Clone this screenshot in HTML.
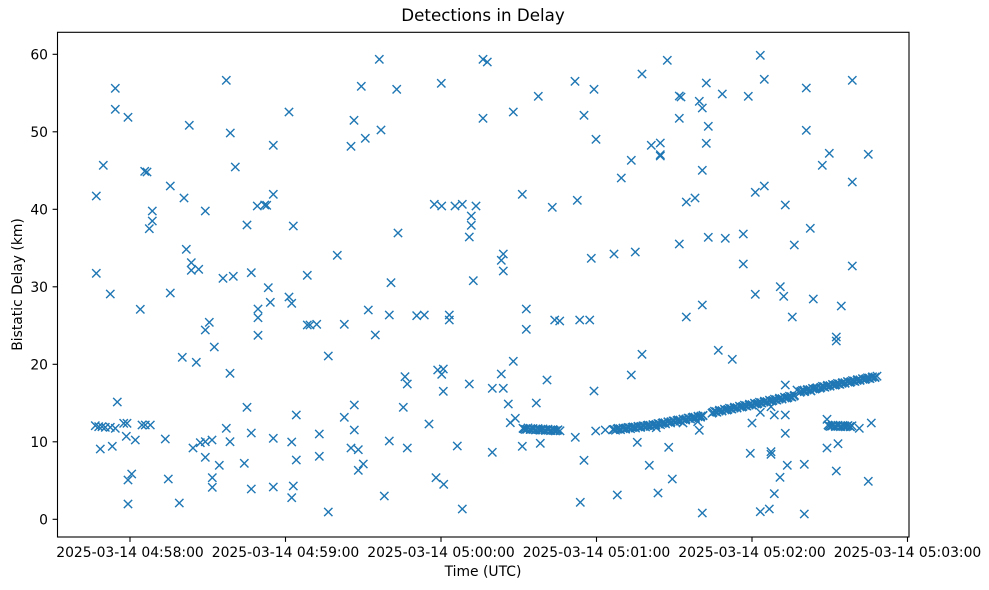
<!DOCTYPE html>
<html>
<head>
<meta charset="utf-8">
<style>
  html, body { margin:0; padding:0; background:#fff; }
  body { width:989px; height:590px; overflow:hidden; }
  svg { display:block; }
  text { font-family: "DejaVu Sans", "Liberation Sans", sans-serif; fill:#000; }
</style>
</head>
<body>
<svg width="989" height="590" viewBox="0 0 989 590" xmlns="http://www.w3.org/2000/svg">
  <defs>
    <marker id="m" markerWidth="12" markerHeight="12" refX="6" refY="6" markerUnits="userSpaceOnUse" overflow="visible">
      <path d="M1.83 1.83L10.17 10.17M10.17 1.83L1.83 10.17" stroke="#1f77b4" stroke-width="1.4" fill="none"/>
    </marker>
  </defs>
  <rect x="0" y="0" width="989" height="590" fill="#fff"/>

  <!-- scatter points -->
  <polyline fill="none" stroke="none" marker-start="url(#m)" marker-mid="url(#m)" marker-end="url(#m)" points="
115.3,88.3 226.3,80.3 115.3,109.3 128,117.3 189.3,125.3 230.3,133 103.3,165.3 144.7,171.3 147,172 235.3,167
170.3,186 96.3,196 184,198 152.3,211 205.3,211 257.3,206 264.7,205 152.3,221 149.3,228.7 247,225
186.3,249.3 191.3,262.7 191.3,270.3 198.7,269.3 96.3,273.3 223,278.3 233.3,276.3 251.3,272.7
110.3,294 170.3,293 140.3,309.3 258,309 258,317.7 209.3,322.3 205.3,330 258,335.3 214.3,347 182.3,357.3
196.3,362.3 230,373.3 117.3,402 247,407.3
95.3,425.7 98.7,426.7 102,426.7 105.3,427.3 110.3,427.3 115.3,428.3 123.7,423.3 127,423.3 142,425 145.3,425 150.3,425
226.3,428.3 251.3,433 126.3,436.3 135.3,440 165.3,439 193,448 200.3,442.7 205.3,441.7 212,440 230,441.7
100.3,449 112.3,446.3 205.3,457.3 219.3,465.3 244.3,463.3 131.7,474 128,480 168.3,479 212.3,477.7 212.3,487.3
251.3,489 128,504 179.3,503
379.3,59.3 361.3,86.3 396.7,89.3 441.3,83.3 289,112 354,120.3 381,130 365.3,138.3 351,146.3 273.3,145.3
273.3,194.3 266.7,205.3 293.3,226 398,233 337.3,255.3 307.3,275.3 391,282.7 434.3,204.3 441.7,206 455,206
462.3,204.3 476,206 471.3,216 471.3,225.3 469.3,237 473.3,280.7
268.3,287.7 270.3,302.3 289,297 291.7,303.3 307.3,325 310,325 316.7,324.3 344.3,324.3 368.3,310 389.3,315
416.7,315.7 424.3,315 449.3,315 449.3,320 375.3,335 328.3,356 405,376.7 407.3,384 437.7,370 443.3,369
441.7,374.3 443.3,391.3 469.3,384 354.3,405 403.3,407.3 296.3,415 344.3,417.3 429,424 354.3,430 319.3,434
273.3,438.3 291.7,442 389.3,441 351,448 358.3,449.7 407.3,448 457.3,446 296.3,460 319.3,456.3 363.3,464
358.3,470.3 273.3,487 293.3,486 291.7,497.7 436,477.7 443.7,484.3 384.3,496 328.3,512 462.3,509
483,59.3 487.3,62 667.3,60.3 642,74 575,81.3 594,89.3 538.3,96.3 679.3,96 681,97 483,118.3
513.3,112 584,115.3 679.3,118.3 596,139.3 651.3,145.3 660.3,143 660.3,154.7 660.3,156 631.3,160.3 621.3,178
522.3,194.3 552.3,207.3 577.3,200.3 686.3,202 679.3,244 503.3,254 501.3,260.3 503.3,271 591.3,258.3
614,254 635.3,252
526.3,309 526.3,329.3 554.7,320 559.7,321 579.7,320 589.7,320 686.3,317 513.3,361.3 501.3,374 492.3,388.3
503.3,388.3 547,380 508.3,404 536.3,403 594,391 631.3,375 642,354.3 510.3,422.7 515.3,418.3 492.3,452.3
522.3,446.3 540.3,443.3 575.3,437.3 595.7,431 605.3,430 584,460.3 637.3,442.3 656.3,427.7 668.7,447.3 649.3,465.3
672.3,479 658,493 617.3,495 580.3,502.3 683,423
760.3,55.3 764.3,79.3 706.3,83 722.3,94 748.3,96.3 699.3,101.3 702.3,108 806.3,88 852.3,80.3 708.3,126.3
706.3,143.3 806.3,130.3 829.3,153.3 868.3,154.3 822.3,165.3 702.3,170.3 852.3,182 764.3,186 755.3,192.3 695,198
785.3,205 810.3,228.3 794.3,245 708.3,237.3 725.3,238.3 743.3,234 743.3,264 852.3,266
755.3,294.3 780.3,286.7 783.7,296.3 702.3,305 813.3,299 841.3,306 792.3,317 836.3,337 836.3,341 718.3,350.3
732.3,359.3 785.3,385 797,390 804.3,391.7 811,391 760.3,412.3 771,406.7 774.3,415 785.3,415 752,423
697.7,421.7 699.3,430.3 785.3,433.3 827,419.3 859.3,428.3 871.3,423 750.3,453.3 771,451.7 771,454.3 827,448
838,443.7 787.3,465.3 804.3,464.3 836.3,471 868.3,481.3 780,477.3 774.3,493.7 702.3,513 760.3,511.7 769.3,509
804.3,514
"/>

  <!-- dense clusters / band (zigzag layer) -->
  <polyline fill="none" stroke="none" marker-start="url(#m)" marker-mid="url(#m)" marker-end="url(#m)" points="
523,428.3 525.5,429.4 528,427.9 530.5,429.5 533,428.5 535.5,430 538,428.6 540.5,430.2 543,428.9 545.5,430.4 548,429.2 550.5,430.6 553,429.5 555.5,430.9 558,429.8 560,430.8
613,429.5 615.5,430.2 618,428.3 620.5,429.7 623,428 625.5,429.2 628,427.4 630.5,428.7 633,426.9 635.5,428.1 638,426.3 640.5,427.5 643,425.8 645.5,426.9 648,425.1 650.5,426.4 653,424.6
655.5,425.5 658,423.6 660.5,424.7 663,422.7 665.5,423.8 668,421.8 670.5,422.9 673,420.9 675.5,422 678,419.9 680.5,421.1 683,419 685.5,420.1 688,418 690.5,419.1 693,417.1 695.5,418.2 698,416.2 700.5,417.2 703,415.3
712,413.2 714.5,411.2 717,412.2 719.5,410.2 722,411.1 724.5,409.2 727,410.1 729.5,408.2 732,409.1 734.5,407.2 737,408.1 739.5,406.2 742,407.1 744.5,405.2 747,406.1 749.5,404.2 752,405.1 754.5,403.2 757,404.1 759.5,402.2 762,403.1 764.5,401.2 767,402.1 769.5,400.2 772,401.1 774.5,399.2 777,400.1 779.5,398.2 782,399.1 784.5,397.2 787,398.1 789.5,396.2 792,397.1 794.5,395.3
800,392.3 802.5,390.4 805,391.2 807.5,389.4 810,390.2 812.5,388.4 815,389.1 817,387.8
820,388.2 822.5,386.3 825,387.2 827.5,385.3 830,386.2 832.5,384.4 835,385.2 837.5,383.4 840,384.3 842.5,382.5 845,383.3 847.5,381.5 850,382.4 852.5,380.6 855,381.4 857.5,379.6 860,380.5 862.5,378.7 865,379.5 867.5,377.8 870,378.6 872.5,376.8 875,377.6 877,376.2
828,425 830.5,426.5 833,425.2 835.5,426.6 838,425.3 840.5,426.7 843,425.4 845.5,426.8 848,425.5 850.5,426.8 852,425.8
"/>
  <!-- dense clusters / band (center layer) -->
  <polyline fill="none" stroke="none" marker-start="url(#m)" marker-mid="url(#m)" marker-end="url(#m)" points="
524,429 527,429.2 530,429.3 533,429.5 536,429.6 539,429.8 542,429.9 545,430 548,430.1 551,430.3 554,430.4 557,430.5
614,429.4 617,429.1 620,428.7 623,428.4 626,428.1 629,427.7 632,427.4 635,427 638,426.7 641,426.4 644,426 647,425.7 650,425.3 653,425
656,424.4 659,423.9 662,423.3 665,422.8 668,422.2 671,421.7 674,421.1 677,420.5 680,420 683,419.4 686,418.9 689,418.3 692,417.8 695,417.2 698,416.7 701,416.1 703,415.7
713,412.3 716,411.7 719,411.1 722,410.5 725,409.9 728,409.3 731,408.7 734,408.1 737,407.5 740,406.9 743,406.3 746,405.7 749,405.1 752,404.5 755,403.9 758,403.3 761,402.7 764,402.1 767,401.5 770,400.9 773,400.3 776,399.7 779,399.1 782,398.5 785,397.9 788,397.3 791,396.7 794,396.1
801,391.3 804,390.7 807,390.1 810,389.5 813,388.9 816,388.3
821,387.3 824,386.7 827,386.2 830,385.6 833,385 836,384.4 839,383.9 842,383.3 845,382.7 848,382.1 851,381.6 854,381 857,380.4 860,379.8 863,379.3 866,378.7 869,378.1 872,377.5 875,377
829,425.9 832,426 835,426.1 838,426.1 841,426.2 844,426.3 847,426.3 850,426.4
"/>

  <!-- axes frame -->
  <rect x="57.5" y="32.3" width="851.5" height="504.7" fill="none" stroke="#000" stroke-width="1.1"/>

  <!-- y ticks -->
  <g stroke="#000" stroke-width="1.1">
    <line x1="52.6" y1="519.3" x2="57.5" y2="519.3"/>
    <line x1="52.6" y1="441.8" x2="57.5" y2="441.8"/>
    <line x1="52.6" y1="364.3" x2="57.5" y2="364.3"/>
    <line x1="52.6" y1="286.8" x2="57.5" y2="286.8"/>
    <line x1="52.6" y1="209.3" x2="57.5" y2="209.3"/>
    <line x1="52.6" y1="131.8" x2="57.5" y2="131.8"/>
    <line x1="52.6" y1="54.3" x2="57.5" y2="54.3"/>
  </g>
  <g font-size="13.9" text-anchor="end">
    <text x="48" y="524.3">0</text>
    <text x="48" y="446.8">10</text>
    <text x="48" y="369.3">20</text>
    <text x="48" y="291.8">30</text>
    <text x="48" y="214.3">40</text>
    <text x="48" y="136.8">50</text>
    <text x="48" y="59.3">60</text>
  </g>

  <!-- x ticks -->
  <g stroke="#000" stroke-width="1.1">
    <line x1="130" y1="537" x2="130" y2="541.9"/>
    <line x1="285.5" y1="537" x2="285.5" y2="541.9"/>
    <line x1="441" y1="537" x2="441" y2="541.9"/>
    <line x1="596.5" y1="537" x2="596.5" y2="541.9"/>
    <line x1="752" y1="537" x2="752" y2="541.9"/>
    <line x1="907.5" y1="537" x2="907.5" y2="541.9"/>
  </g>
  <g font-size="13.9" text-anchor="middle">
    <text x="130" y="557">2025-03-14 04:58:00</text>
    <text x="285.5" y="557">2025-03-14 04:59:00</text>
    <text x="441" y="557">2025-03-14 05:00:00</text>
    <text x="596.5" y="557">2025-03-14 05:01:00</text>
    <text x="752" y="557">2025-03-14 05:02:00</text>
    <text x="907.5" y="557">2025-03-14 05:03:00</text>
  </g>

  <!-- labels -->
  <text x="483" y="576" font-size="13.9" text-anchor="middle">Time (UTC)</text>
  <text transform="translate(22,284.5) rotate(-90)" font-size="13.9" text-anchor="middle">Bistatic Delay (km)</text>
  <text x="483" y="21" font-size="16.7" text-anchor="middle">Detections in Delay</text>
</svg>
</body>
</html>
